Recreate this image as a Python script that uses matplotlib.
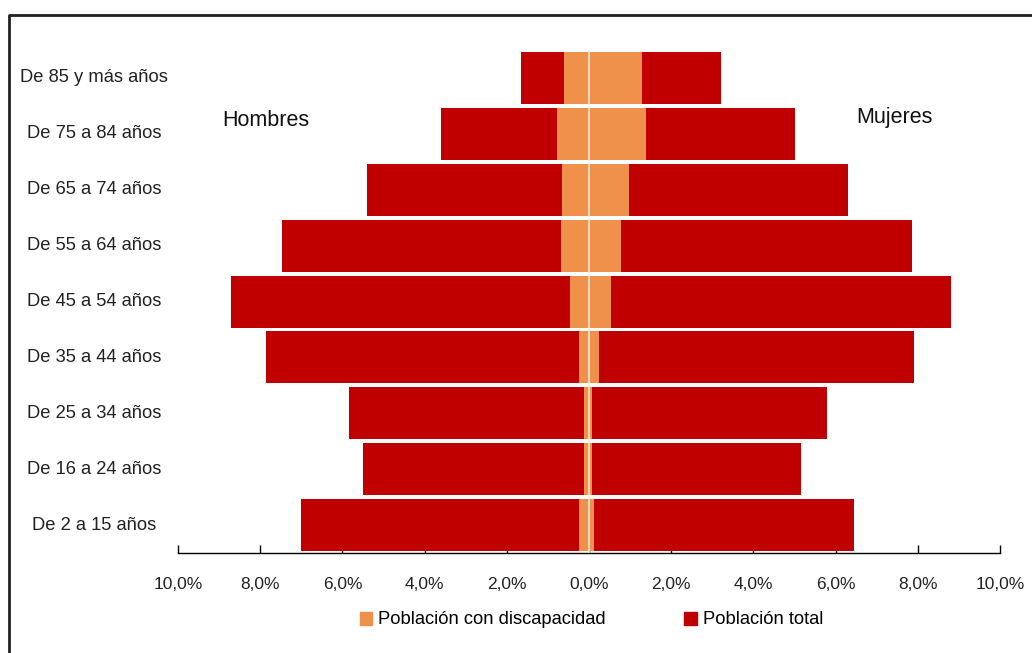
import numpy as np
import matplotlib
matplotlib.use("Agg")
import matplotlib.pyplot as plt
import matplotlib.transforms as mtransforms
from matplotlib.lines import Line2D
from matplotlib.patches import Patch

# age groups, bottom to top
groups = ['De 2 a 15 años', 'De 16 a 24 años', 'De 25 a 34 años', 'De 35 a 44 años',
          'De 45 a 54 años', 'De 55 a 64 años', 'De 65 a 74 años', 'De 75 a 84 años',
          'De 85 y más años']

# % of population
total_hombres = [7.00, 5.51, 5.85, 7.85, 8.72, 7.48, 5.41, 3.59, 1.65]
total_mujeres = [6.44, 5.17, 5.78, 7.90, 8.80, 7.87, 6.31, 5.02, 3.22]
disc_hombres = [0.25, 0.13, 0.13, 0.25, 0.47, 0.69, 0.66, 0.77, 0.61]
disc_mujeres = [0.11, 0.07, 0.08, 0.24, 0.54, 0.77, 0.97, 1.39, 1.28]

xticks = [-10, -8, -6, -4, -2, 0, 2, 4, 6, 8, 10]

rojo = '#C00000'
naranja = '#F0914B'

plt.rcParams['font.family'] = ['Liberation Sans', 'DejaVu Sans']

fig = plt.figure(figsize=(10.32, 6.53), dpi=100)
ax = fig.add_axes([0.1725, 0.1531, 0.7965, 0.7703])

y = np.arange(len(groups))
h = 0.93
ax.barh(y, -np.array(total_hombres), height=h, color=rojo, zorder=2)
ax.barh(y, total_mujeres, height=h, color=rojo, zorder=2)
ax.barh(y, -np.array(disc_hombres), height=h, color=naranja, zorder=3)
ax.barh(y, disc_mujeres, height=h, color=naranja, zorder=3)
ax.axvline(0, color='#FCEBD8', lw=1.2, zorder=4)

ax.set_xlim(-10, 10)
ax.set_ylim(-0.5, 8.5)
ax.set_xticks(xticks)
ax.set_xticklabels([('%.1f%%' % abs(v)).replace('.', ',') for v in xticks], fontsize=12.5, color='#222222')
ax.tick_params(axis='x', direction='in', length=6, width=1, pad=17)
ax.set_yticks([])
for s in ['left', 'right', 'top']:
    ax.spines[s].set_visible(False)
ax.spines['bottom'].set_linewidth(1)

# centred category labels on the left
trans = mtransforms.blended_transform_factory(fig.transFigure, ax.transData)
for yi, g in zip(y, groups):
    ax.text(94 / 1032, yi, g, transform=trans, ha='center', va='center',
            fontsize=13.2, color='#222222')

fig.text(266 / 1032, 1 - 121 / 653, 'Hombres', ha='center', va='center', fontsize=15.5, color='#111111')
fig.text(894 / 1032, 1 - 117 / 653, 'Mujeres', ha='center', va='center', fontsize=15.5, color='#111111')

handles = [Patch(color=naranja, label='Población con discapacidad'),
           Patch(color=rojo, label='Población total')]
fig.legend(handles=handles, loc='center', bbox_to_anchor=(0.573, 1 - 620 / 653), ncol=2,
           frameon=False, fontsize=13.2, handlelength=0.7, handleheight=0.7,
           handletextpad=0.3, columnspacing=4.3)

# outer frame (left and top edges visible)
fig.add_artist(Line2D([9 / 1032, 9 / 1032, 1.0], [0.0, 1 - 15 / 653, 1 - 15 / 653],
                      transform=fig.transFigure, color='#222222', lw=2))

fig.savefig('out.png', dpi=100)
